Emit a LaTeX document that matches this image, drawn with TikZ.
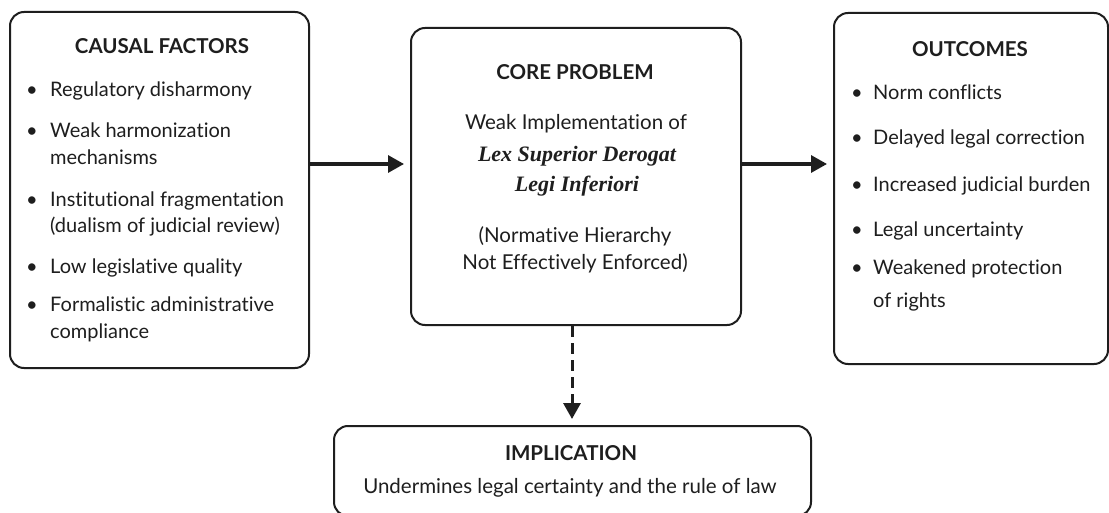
\documentclass[tikz,border=0pt]{standalone}
\usepackage{fontspec}
\setmainfont{Lato}[Ligatures=NoCommon]
\newfontfamily\lexfont{Liberation Serif}
\usetikzlibrary{arrows.meta}
\definecolor{ink}{HTML}{1E1E1E}
\tikzset{
  box/.style={draw=ink, line width=2pt, rounded corners=14pt, anchor=north west, inner sep=0pt},
  ttl/.style={anchor=base, inner sep=0pt, text=ink, font=\fontsize{20.5}{24}\selectfont\bfseries},
  txt/.style={anchor=base west, inner sep=0pt, text=ink, font=\fontsize{20}{24}\selectfont},
  ctxt/.style={anchor=base, inner sep=0pt, text=ink, font=\fontsize{20.5}{24}\selectfont},
  lex/.style={anchor=base, inner sep=0pt, text=ink, font=\fontsize{22}{26}\selectfont\lexfont\bfseries\itshape},
  bul/.style={anchor=base, inner sep=0pt, text=ink, font=\fontsize{20}{24}\selectfont},
  conn/.style={draw=ink, line width=3.2pt, -{Triangle[length=16pt,width=17pt]}},
}
\begin{document}
\begin{tikzpicture}[x=1pt,y=-1pt]
\useasboundingbox[fill=white] (0,0) rectangle (1109,513);
% boxes
\node[box, minimum width=299pt, minimum height=356pt] (causes) at (9,11) {};
\node[box, minimum width=330pt, minimum height=297pt] (core) at (410,27) {};
\node[box, minimum width=274pt, minimum height=351pt] (outc) at (833,12) {};
\node[box, minimum width=477pt, minimum height=90pt] (impl) at (333,425) {};
% causal factors
\node[ttl] (ct) at (162,54) {CAUSAL FACTORS};
\foreach \y/\b/\t [count=\i] in {97/1/Regulatory disharmony, 138/1/Weak harmonization, 165/0/mechanisms, 207/1/Institutional fragmentation, 233/0/(dualism of judicial review), 273/1/Low legislative quality, 312/1/Formalistic administrative, 338/0/compliance}{
  \node[txt] (c\i) at (50,\y) {\t};
  \ifnum\b=1 \node[bul] (cb\i) at (32,\y) {\textbullet}; \fi
}
% core problem
\node[ttl] (pt) at (575,80) {CORE PROBLEM};
\node[ctxt] (p1) at (576,130) {Weak Implementation of};
\node[lex] (p2) at (577,162) {Lex Superior Derogat};
\node[lex] (p3) at (577,192) {Legi Inferiori};
\node[ctxt] (p4) at (575,243) {(Normative Hierarchy};
\node[ctxt] (p5) at (575,270) {Not Effectively Enforced)};
% outcomes
\node[ttl] (ot) at (970,57) {OUTCOMES};
\foreach \y/\b/\t [count=\i] in {100/1/Norm conflicts, 145/1/Delayed legal correction, 192/1/Increased judicial burden, 237/1/Legal uncertainty, 275/1/Weakened protection, 308/0/of rights}{
  \node[txt] (o\i) at (873,\y) {\t};
  \ifnum\b=1 \node[bul] (ob\i) at (857,\y) {\textbullet}; \fi
}
% implication
\node[ttl] (it) at (571,460) {IMPLICATION};
\node[ctxt] (i1) at (570,493) {Undermines legal certainty and the rule of law};
% connectors
\coordinate (ya) at (0,164);
\draw[conn, shorten >=6pt] (causes.east |- ya) -- (core.west |- ya);
\draw[conn, shorten >=6pt] (core.east |- ya) -- (outc.west |- ya);
\coordinate (xd) at (572,0);
\draw[draw=ink, line width=3pt, dash pattern=on 11pt off 6pt] (core.south -| xd) -- ++(0,80);
\draw[conn, shorten >=6pt, shorten <=80pt] (core.south -| xd) -- (impl.north -| xd);
\end{tikzpicture}
\end{document}
